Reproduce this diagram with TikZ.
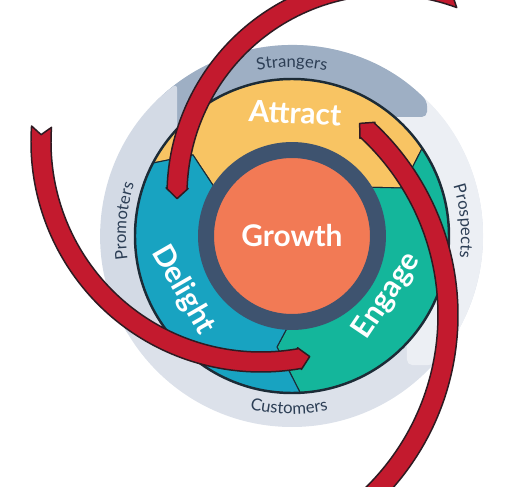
\documentclass[tikz,border=0pt]{standalone}
\usepackage{fontspec}
\setmainfont{Lato}
\usetikzlibrary{decorations.text}
\definecolor{fworange}{HTML}{F27A55}
\definecolor{fwslate}{HTML}{3E536F}
\definecolor{fwyellow}{HTML}{F8C463}
\definecolor{fwblue}{HTML}{18A3C1}
\definecolor{fwgreen}{HTML}{14B69B}
\definecolor{fwline}{HTML}{1C2B36}
\definecolor{fwred}{HTML}{C31A2E}
\definecolor{fwredline}{HTML}{2E1B22}
\definecolor{bandtop}{HTML}{9EAFC4}
\definecolor{bandleft}{HTML}{D3DAE5}
\definecolor{bandright}{HTML}{ECEFF4}
\definecolor{bandbottom}{HTML}{DCE1EA}
\definecolor{bandtext}{HTML}{2C3E55}
\newcommand{\bandfont}{\fontsize{9.5}{11}\selectfont}
\newcommand{\ringfont}{\bfseries\fontsize{17}{20}\selectfont}
% swirl arrow: centre, radius, tail angle, tip angle
\newcommand{\swirl}[4]{%
  \begin{scope}[shift={#1}]
    \filldraw[swirlarrow] ({#3}:{#2+10}) arc[start angle={#3}, end angle={#4-600/#2}, radius={#2+10}]
      -- ({#4-600/#2}:{#2+11}) -- ({#4}:{#2}) -- ({#4-600/#2}:{#2-11})
      -- ({#4-600/#2}:{#2-10}) arc[start angle={#4-600/#2}, end angle={#3}, radius={#2-10}]
      -- ({#3+460/#2}:{#2}) -- cycle;
  \end{scope}}

\begin{document}
\begin{tikzpicture}[x=0.02cm, y=0.02cm,
    seg/.style={draw=fwline, line width=0.6pt},
    swirlarrow/.style={fill=fwred, draw=fwredline, line width=0.85pt, line join=round},
    ringtext/.style={text=white, font=\ringfont},
    bandlabel/.style={decorate, decoration={text along path, text align=center, text color=bandtext}}]
  \useasboundingbox (-292,-251) rectangle (219,236);
  \clip (-292,-251) rectangle (219,236);
  % outer band
  \fill[bandbottom] (0,0) circle[radius=191];
  \fill[bandright, rounded corners=3pt] (50:191) arc[start angle=50, end angle=-42.5, radius=191]
    -- (115,-129) -- (115,0) -- (50:150) -- cycle;
  \fill[bandtop, rounded corners=3pt] (45:191) arc[start angle=45, end angle=140, radius=191]
    -- (140:150) -- (100,119) -- (135,119) -- cycle;
  \fill[bandleft, rounded corners=3pt] (212:191) arc[start angle=212, end angle=127, radius=191]
    -- (-115,100) -- (212:150) -- cycle;
  % flywheel segments
  \filldraw[seg, fill=fwyellow] (152.3:157) arc[start angle=152.3, end angle=34, radius=157]
    -- (23.6:120) -- (32:92) arc[start angle=32, end angle=147.8, radius=92] -- (140.7:128) -- cycle;
  \filldraw[seg, fill=fwgreen] (34:157) arc[start angle=34, end angle=-87, radius=157]
    -- (-97.7:112) -- (-93:92) arc[start angle=-93, end angle=32, radius=92] -- (23.6:120) -- cycle;
  \filldraw[seg, fill=fwblue] (-87:157) arc[start angle=-87, end angle=-207.7, radius=157]
    -- (140.7:128) -- (147.8:92) arc[start angle=147.8, end angle=267, radius=92] -- (-97.7:112) -- cycle;
  \draw[fwline, line width=1.4pt] (0,0) circle[radius=157];
  \node[circle, fill=fworange, draw=fwslate, line width=9.1pt, minimum size=3.44cm, inner sep=0pt,
    ringtext] (growth) at (0,0) {Growth};
  \node[ringtext, rotate=-3] (attract) at (3,123) {Attract};
  \node[ringtext, rotate=-60] (delight) at (-109,-54) {Delight};
  \node[ringtext, rotate=56] (engage) at (95,-60) {Engage};
  % band labels
  \path[bandlabel, decoration={text={|\bandfont|Strangers}}] (130:169) arc[start angle=130, end angle=50, radius=169];
  \path[bandlabel, decoration={text={|\bandfont|Prospects}}] (45:169) arc[start angle=45, end angle=-35, radius=169];
  \path[bandlabel, decoration={text={|\bandfont|Customers}}] (-131:178) arc[start angle=-131, end angle=-51, radius=178];
  \path[bandlabel, decoration={text={|\bandfont|Promoters}}] (215:166) arc[start angle=215, end angle=135, radius=166];
  % swirl arrows
  \swirl{(95,41)}{210}{69.6}{181}
  \swirl{(-31,94)}{220}{176}{282.8}
  \swirl{(-96,-79)}{252}{-95}{49.5}
\end{tikzpicture}
\end{document}
